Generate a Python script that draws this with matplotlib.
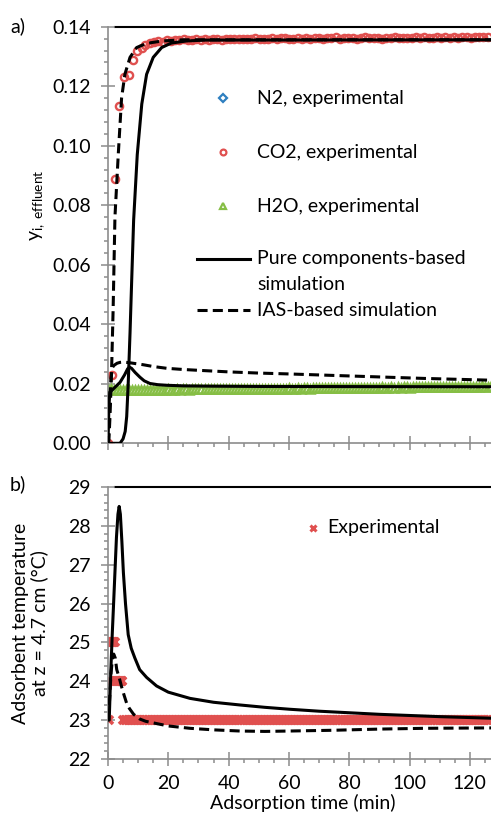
import numpy as np
import matplotlib
matplotlib.use("Agg")
import matplotlib.pyplot as plt
from matplotlib.ticker import MultipleLocator, FormatStrFormatter

plt.rcParams['font.family'] = ['Lato', 'DejaVu Sans']
plt.rcParams['mathtext.fontset'] = 'custom'
plt.rcParams['mathtext.rm'] = 'Lato'
plt.rcParams['mathtext.it'] = 'Lato:italic'

# ---------------- data: panel a (effluent mole fractions) ----------------
co2_exp_t_early = [0, 1.2, 2.3, 3.8, 5.3, 7.0, 8.2, 9.7, 11.2, 12.3, 13.9]
co2_exp_y_early = [0.0, 0.0228, 0.0889, 0.1135, 0.1230, 0.1238, 0.1288, 0.1317, 0.1328, 0.1339, 0.1344]
co2_plateau_start = 15.3
co2_plateau_step = 1.4
co2_exp_y_plateau = [
    0.1348, 0.1352, 0.1350, 0.1355, 0.1353, 0.1356, 0.1354, 0.1357, 0.1355, 0.1356,
    0.1358, 0.1355, 0.1357, 0.1356, 0.1359, 0.1357, 0.1356, 0.1358, 0.1360, 0.1357,
    0.1359, 0.1357, 0.1360, 0.1358, 0.1361, 0.1359, 0.1358, 0.1360, 0.1362, 0.1359,
    0.1361, 0.1363, 0.1359, 0.1360, 0.1362, 0.1358, 0.1361, 0.1360, 0.1363, 0.1361,
    0.1360, 0.1362, 0.1361, 0.1364, 0.1360, 0.1362, 0.1361, 0.1363, 0.1360, 0.1362,
    0.1364, 0.1361, 0.1363, 0.1362, 0.1360, 0.1363, 0.1361, 0.1364, 0.1362, 0.1363,
    0.1361, 0.1363, 0.1365, 0.1362, 0.1364, 0.1362, 0.1363, 0.1366, 0.1363, 0.1364,
    0.1362, 0.1365, 0.1363, 0.1364, 0.1366, 0.1363, 0.1365, 0.1364, 0.1366, 0.1365,
]

h2o_exp_step = 1.0
h2o_exp_y = [
    0.0182, 0.0181, 0.0180, 0.0179, 0.0179, 0.0178, 0.0179, 0.0178, 0.0179, 0.0179, 0.0178, 0.0179, 0.0179, 0.0180, 0.0179, 0.0180,
    0.0180, 0.0179, 0.0180, 0.0180, 0.0181, 0.0180, 0.0180, 0.0181, 0.0180, 0.0181, 0.0181, 0.0180, 0.0181, 0.0181, 0.0182, 0.0181,
    0.0181, 0.0182, 0.0181, 0.0182, 0.0182, 0.0181, 0.0182, 0.0182, 0.0183, 0.0182, 0.0182, 0.0183, 0.0182, 0.0183, 0.0183, 0.0182,
    0.0183, 0.0183, 0.0184, 0.0183, 0.0183, 0.0184, 0.0183, 0.0184, 0.0184, 0.0183, 0.0184, 0.0184, 0.0185, 0.0184, 0.0184, 0.0185,
    0.0184, 0.0185, 0.0185, 0.0184, 0.0185, 0.0185, 0.0186, 0.0185, 0.0185, 0.0186, 0.0185, 0.0186, 0.0186, 0.0185, 0.0186, 0.0186,
    0.0186, 0.0187, 0.0186, 0.0186, 0.0187, 0.0186, 0.0187, 0.0187, 0.0186, 0.0187, 0.0187, 0.0188, 0.0187, 0.0187, 0.0188, 0.0187,
    0.0188, 0.0187, 0.0188, 0.0188, 0.0187, 0.0188, 0.0188, 0.0189, 0.0188, 0.0188, 0.0189, 0.0188, 0.0189, 0.0189, 0.0188, 0.0189,
    0.0189, 0.0189, 0.0190, 0.0189, 0.0189, 0.0190, 0.0189, 0.0190, 0.0190, 0.0189, 0.0190, 0.0190, 0.0191, 0.0190, 0.0190, 0.0191,
]

# pure components-based simulation (solid)
pure_co2_t = [0, 4.0, 5.0, 5.7, 6.2, 6.7, 7.3, 7.8, 8.5, 9.7, 11.2, 12.8, 15.0, 17.8, 21.0, 26, 32, 127]
pure_co2_y = [0, 0, 0.0015, 0.004, 0.009, 0.020, 0.037, 0.053, 0.075, 0.097, 0.114, 0.124, 0.1297, 0.1330, 0.1345, 0.1352, 0.1355, 0.1356]
pure_h2o_t = [0, 0.3, 0.6, 1.5, 2.5, 4.0, 5.5, 6.5, 7.1, 7.8, 9.0, 10.6, 12.0, 13.9, 16.5, 19.5, 25, 35, 50, 127]
pure_h2o_y = [0, 0.012, 0.0172, 0.0180, 0.0190, 0.0205, 0.0230, 0.0250, 0.0256, 0.0252, 0.0238, 0.0222, 0.0210, 0.0201, 0.0197, 0.0195, 0.0193, 0.0192, 0.0191, 0.0190]

# IAS-based simulation (dashed)
ias_co2_t = [0, 0.3, 0.7, 1.2, 1.7, 2.3, 3.4, 4.5, 5.6, 7.3, 9.5, 12.8, 18, 25, 127]
ias_co2_y = [0, 0.001, 0.010, 0.025, 0.045, 0.076, 0.097, 0.116, 0.124, 0.1297, 0.1330, 0.1344, 0.1352, 0.1356, 0.1356]
ias_h2o_t = [0, 0.5, 1.0, 1.5, 2.0, 3.0, 4.0, 5.1, 7, 9, 11.7, 15, 19.5, 25, 30.5, 40, 50, 60.3, 75, 90, 105, 127]
ias_h2o_y = [0, 0.012, 0.022, 0.0255, 0.0262, 0.0269, 0.0272, 0.0273, 0.0271, 0.0268, 0.0264, 0.0258, 0.0252, 0.0248, 0.0245, 0.0240, 0.0236, 0.0233, 0.0228, 0.0223, 0.0218, 0.0212]

# ---------------- data: panel b (temperature) ----------------
temp_exp_t_early = [0.3, 0.6, 0.9, 1.2, 1.5, 1.8, 2.1, 2.4, 2.7, 3.0, 3.3, 3.6, 3.9, 4.2, 4.5, 4.8]
temp_exp_T_early = [23, 24, 25, 25, 25, 25, 25, 25, 24, 24, 24, 24, 24, 24, 24, 24]
temp_band_start = 5.1
temp_band_step = 0.5
temp_exp_T_band = [
    23, 23, 23, 23, 23, 23, 23, 23, 23, 23, 23, 23, 23, 23, 23, 23, 23, 23, 23, 23,
    23, 23, 23, 23, 23, 23, 23, 23, 23, 23, 23, 23, 23, 23, 23, 23, 23, 23, 23, 23,
    23, 23, 23, 23, 23, 23, 23, 23, 23, 23, 23, 23, 23, 23, 23, 23, 23, 23, 23, 23,
    23, 23, 23, 23, 23, 23, 23, 23, 23, 23, 23, 23, 23, 23, 23, 23, 23, 23, 23, 23,
    23, 23, 23, 23, 23, 23, 23, 23, 23, 23, 23, 23, 23, 23, 23, 23, 23, 23, 23, 23,
    23, 23, 23, 23, 23, 23, 23, 23, 23, 23, 23, 23, 23, 23, 23, 23, 23, 23, 23, 23,
    23, 23, 23, 23, 23, 23, 23, 23, 23, 23, 23, 23, 23, 23, 23, 23, 23, 23, 23, 23,
    23, 23, 23, 23, 23, 23, 23, 23, 23, 23, 23, 23, 23, 23, 23, 23, 23, 23, 23, 23,
    23, 23, 23, 23, 23, 23, 23, 23, 23, 23, 23, 23, 23, 23, 23, 23, 23, 23, 23, 23,
    23, 23, 23, 23, 23, 23, 23, 23, 23, 23, 23, 23, 23, 23, 23, 23, 23, 23, 23, 23,
    23, 23, 23, 23, 23, 23, 23, 23, 23, 23, 23, 23, 23, 23, 23, 23, 23, 23, 23, 23,
    23, 23, 23, 23, 23, 23, 23, 23, 23, 23, 23, 23, 23, 23, 23, 23, 23, 23, 23, 23,
    23, 23, 23, 23,
]
pure_T_t = [0, 0.4, 0.9, 1.4, 1.8, 2.3, 2.8, 3.3, 3.7, 4.1, 4.6, 5.1, 5.8, 6.7, 7.7, 8.9, 10.5, 12.8, 16.1, 20, 27.2, 35, 43.8, 52, 60.3, 70, 80, 90, 100, 110, 127]
pure_T = [23.0, 23.0, 24.2, 25.2, 25.9, 26.8, 27.7, 28.3, 28.5, 28.3, 27.6, 26.8, 26.0, 25.2, 24.85, 24.6, 24.3, 24.1, 23.88, 23.72, 23.56, 23.46, 23.39, 23.33, 23.28, 23.23, 23.19, 23.15, 23.12, 23.09, 23.05]
ias_T_t = [0, 0.5, 1.0, 1.5, 1.9, 2.4, 2.9, 3.7, 4.5, 5.3, 6.2, 7.1, 8.5, 10.5, 12.5, 15.6, 20, 27.2, 35, 43.8, 52, 60.3, 75, 90, 105, 127]
ias_T = [23.0, 23.5, 24.2, 24.6, 24.7, 24.6, 24.3, 24.1, 23.86, 23.65, 23.43, 23.3, 23.15, 23.03, 22.97, 22.92, 22.85, 22.79, 22.75, 22.72, 22.71, 22.72, 22.74, 22.77, 22.79, 22.8]

x_ticks_major = 20
xmax = 127

# ---------------- assemble sample times ----------------
co2_exp_t = list(co2_exp_t_early) + list(co2_plateau_start + co2_plateau_step * np.arange(len(co2_exp_y_plateau)))
co2_exp_y = list(co2_exp_y_early) + list(co2_exp_y_plateau)
h2o_exp_t = h2o_exp_step * np.arange(len(h2o_exp_y))
temp_exp_t = list(temp_exp_t_early) + list(temp_band_start + temp_band_step * np.arange(len(temp_exp_T_band)))
temp_exp_T = list(temp_exp_T_early) + list(temp_exp_T_band)

# ---------------- styling ----------------
RED = '#E0504F'
GREEN = '#86BE45'
BLUE = '#2E7FC0'
GREY = '#8C8C8C'
FS = 14
W, H = 491, 813
DASH = (3.3, 1.7)

fig = plt.figure(figsize=(W / 100, H / 100), dpi=100)

def add_ax(left, top, right, bottom):
    return fig.add_axes([left / W, 1 - bottom / H, (right - left) / W, (bottom - top) / H])

axa = add_ax(108, 26.7, 491, 443.3)
axb = add_ax(108, 487, 491, 759)

def style(ax, ymin, ymax, ymaj, ymin_step, fmt, xlabels):
    ax.set_xlim(0, xmax)
    ax.set_ylim(ymin, ymax)
    ax.xaxis.set_major_locator(MultipleLocator(x_ticks_major))
    ax.xaxis.set_minor_locator(MultipleLocator(5))
    ax.yaxis.set_major_locator(MultipleLocator(ymaj))
    ax.yaxis.set_minor_locator(MultipleLocator(ymin_step))
    ax.yaxis.set_major_formatter(FormatStrFormatter(fmt))
    for s in ['top', 'right']:
        ax.spines[s].set_visible(False)
    for s in ['left', 'bottom']:
        ax.spines[s].set_color(GREY)
        ax.spines[s].set_linewidth(1.2)
    ax.tick_params(which='major', direction='inout', length=9.4, width=1.1, color=GREY,
                   labelsize=FS, labelcolor='black')
    ax.tick_params(axis='y', which='major', pad=7.5)
    ax.tick_params(axis='x', which='major', pad=6.5, labelbottom=xlabels)
    ax.tick_params(which='minor', direction='out', length=3.0, width=1.1, color=GREY)
    ax.axhline(ymax, xmin=7 / 383, color='black', lw=1.5, clip_on=False, zorder=1)
    ax.patch.set_alpha(0)

style(axa, 0, 0.14, 0.02, 0.004, '%.2f', False)
style(axb, 22, 29, 1, 0.2, '%d', True)

# ---------------- panel a ----------------
axa.plot(h2o_exp_t, h2o_exp_y, linestyle='none', marker='^', ms=5.5, mfc='white', mec=GREEN, mew=1.8, zorder=2)
axa.plot(co2_exp_t, co2_exp_y, linestyle='none', marker='o', ms=5.2, mfc='none', mec=RED, mew=1.7, zorder=2)
axa.plot(pure_co2_t, pure_co2_y, color='black', lw=2.2, zorder=3, solid_joinstyle='round')
axa.plot(pure_h2o_t, pure_h2o_y, color='black', lw=2.2, zorder=3, solid_joinstyle='round')
axa.plot(ias_co2_t, ias_co2_y, color='black', lw=2.2, dashes=DASH, zorder=3)
axa.plot(ias_h2o_t, ias_h2o_y, color='black', lw=2.2, dashes=DASH, zorder=3)

# legend (panel a) placed in pixel positions of the figure
def to_ax(px, py, left, top, right, bottom):
    return (px - left) / (right - left), (bottom - py) / (bottom - top)

def pa(px, py):
    return to_ax(px, py, 108, 26.7, 491, 443.3)

def pb(px, py):
    return to_ax(px, py, 108, 487, 491, 759)

leg_marks = [('N2, experimental', 'D', BLUE, 98, 3.6), ('CO2, experimental', 'o', RED, 152, 4.2), ('H2O, experimental', '^', GREEN, 206, 4.5)]
for lab, mk, col, py, ms in leg_marks:
    x, y = pa(223, py)
    axa.plot([x], [y], marker=mk, ms=ms, mfc='white', mec=col, mew=1.6, transform=axa.transAxes, clip_on=False)
    tx, ty = pa(257, py)
    axa.text(tx, ty, lab, transform=axa.transAxes, fontsize=FS, va='center', ha='left')

x0, y0 = pa(197, 259)
x1, _ = pa(250, 259)
axa.plot([x0, x1], [y0, y0], color='black', lw=2.2, transform=axa.transAxes, clip_on=False)
tx, ty = pa(257, 258)
axa.text(tx, ty, 'Pure components-based', transform=axa.transAxes, fontsize=FS, va='center', ha='left')
tx, ty = pa(257, 284)
axa.text(tx, ty, 'simulation', transform=axa.transAxes, fontsize=FS, va='center', ha='left')
x0, y0 = pa(197, 310)
axa.plot([x0, x1], [y0, y0], color='black', lw=2.2, dashes=DASH, transform=axa.transAxes, clip_on=False)
tx, ty = pa(257, 310)
axa.text(tx, ty, 'IAS-based simulation', transform=axa.transAxes, fontsize=FS, va='center', ha='left')

# ---------------- panel b ----------------
axb.plot(temp_exp_t, temp_exp_T, linestyle='none', marker='x', ms=6.0, mec=RED, mew=2.6, zorder=2)
axb.plot(pure_T_t, pure_T, color='black', lw=2.2, zorder=3, solid_joinstyle='round')
axb.plot(ias_T_t, ias_T, color='black', lw=2.2, dashes=DASH, zorder=3)

x, y = pb(313, 528)
axb.plot([x], [y], marker='x', ms=5.0, mec=RED, mew=2.2, transform=axb.transAxes, clip_on=False)
tx, ty = pb(327, 528)
axb.text(tx, ty, 'Experimental', transform=axb.transAxes, fontsize=FS, va='center', ha='left')

# ---------------- labels ----------------
fig.text(38 / W, 1 - 205 / H, r'y$_{\mathregular{i,\ effluent}}$', rotation=90, ha='center', va='center', fontsize=FS)
fig.text(30 / W, 1 - 623 / H, 'Adsorbent temperature\nat z = 4.7 cm (°C)', rotation=90, ha='center', va='center',
         fontsize=FS, linespacing=1.05, multialignment='center')
fig.text(303 / W, 1 - 803 / H, 'Adsorption time (min)', ha='center', va='center', fontsize=FS)
fig.text(10 / W, 1 - 26 / H, 'a)', ha='left', va='center', fontsize=FS)
fig.text(10 / W, 1 - 484 / H, 'b)', ha='left', va='center', fontsize=FS)

fig.savefig('out.png', dpi=100)
